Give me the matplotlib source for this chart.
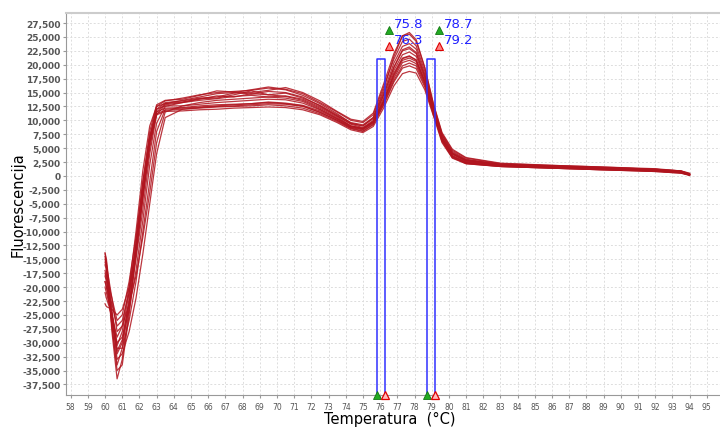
import matplotlib
matplotlib.use("Agg")
import matplotlib.pyplot as plt
from matplotlib.ticker import FuncFormatter, MultipleLocator

# temperature grid (deg C) shared by all the melt curves
temps = [60.0, 60.08, 60.4, 60.7, 61.0, 61.4, 61.8, 62.2, 62.6, 63.0, 63.5,
         64.5, 65.5, 66.5, 67.5, 68.5, 69.5, 70.5, 71.5, 72.5, 73.5,
         74.3, 75.0, 75.6, 76.2, 76.8, 77.3, 77.7, 78.1, 78.6, 79.1, 79.6,
         80.2, 81.0, 83.0, 86.0, 89.0, 92.0, 93.5, 94.0]

# fluorescence per well, in thousands
well_01 = [-14.0, -15.5, -28, -36.5, -33, -24, -13, -3, 7, 12.5, 13.5,
           14.0, 14.6, 15.0, 15.2, 15.4, 15.8, 15.5, 14.5, 13.0, 11.2,
           9.5, 9.0, 10.5, 15.5, 21.5, 25.2, 25.8, 24.5, 19.5, 13, 7.8,
           4.8, 3.3, 2.3, 1.9, 1.6, 1.2, 0.9, 0.4]
well_02 = [-16, -17, -27, -34, -31, -23, -14, -4, 5, 11.5, 13.0,
           13.6, 14.2, 14.8, 15.0, 15.5, 16.0, 15.6, 14.8, 13.2, 11.5,
           10.0, 9.6, 11, 16, 21, 24.2, 24.6, 23.4, 18.8, 12.5, 7.4,
           4.4, 3.0, 2.1, 1.8, 1.5, 1.2, 0.9, 0.3]
well_03 = [-18, -19, -26, -32, -30, -22, -12, -1, 8, 12.8, 13.6,
           13.8, 14.5, 15.3, 15.1, 14.7, 15.2, 15.0, 14.2, 12.6, 10.8,
           9.3, 8.7, 10, 14.5, 19.5, 22.7, 23.2, 22.2, 18, 12, 6.8,
           3.6, 2.4, 1.8, 1.5, 1.2, 0.9, 0.6, 0.2]
well_04 = [-20, -21, -25, -30, -29, -23, -15, -6, 4, 11, 12.8,
           13.2, 13.8, 14.4, 14.2, 14.8, 14.6, 14.3, 13.6, 12.2, 10.6,
           9.0, 8.5, 9.8, 14, 19, 21.8, 22.3, 21.5, 17.5, 11.8, 6.5,
           3.4, 2.3, 1.7, 1.4, 1.1, 0.9, 0.6, 0.1]
well_05 = [-21, -22, -25, -29, -27, -20, -10, 1, 9, 12.5, 13.0,
           13.3, 13.9, 14.0, 14.6, 15.3, 14.6, 14.9, 14.0, 12.7, 11.0,
           9.6, 9.2, 10.5, 15, 20.3, 23.3, 23.8, 22.8, 18.3, 12.3, 7.3,
           4.2, 2.9, 2.1, 1.8, 1.5, 1.2, 0.8, 0.3]
well_06 = [-14.5, -16, -22, -28, -27, -23, -18, -11, -3, 6, 11.5,
           12.6, 13.2, 13.6, 13.8, 14.0, 14.2, 14.0, 13.4, 12.0, 10.4,
           9.0, 8.6, 9.8, 13.6, 18.5, 21.2, 21.6, 20.8, 17, 11.5, 6.9,
           4.0, 2.7, 2.0, 1.7, 1.4, 1.1, 0.8, 0.3]
well_07 = [-19, -20, -23, -27, -26, -21, -14, -4, 6, 11.5, 12.2,
           12.3, 12.6, 12.8, 12.9, 13.0, 13.2, 13.0, 12.6, 11.4, 10.0,
           8.7, 8.3, 9.5, 13.2, 17.6, 20.4, 20.8, 20.2, 16.6, 11.3, 6.2,
           3.3, 2.2, 1.7, 1.4, 1.1, 0.8, 0.5, 0.1]
well_08 = [-17, -18, -22, -26, -25, -19, -11, -1, 7, 11.2, 11.8,
           12.0, 12.2, 12.4, 12.5, 12.6, 12.8, 12.6, 12.2, 11.2, 9.8,
           8.5, 8.0, 9.2, 12.7, 16.9, 19.4, 19.8, 19.3, 16.0, 11.0, 6.6,
           3.9, 2.6, 1.9, 1.6, 1.3, 1.0, 0.7, 0.2]
well_09 = [-23, -23.5, -24, -25, -24, -20, -13, -3, 6, 11, 11.6,
           11.7, 11.9, 12.0, 12.2, 12.3, 12.4, 12.3, 11.9, 11.0, 9.6,
           8.3, 7.8, 8.9, 12.2, 16.2, 18.4, 18.8, 18.5, 15.5, 10.8, 6.0,
           3.2, 2.2, 1.7, 1.4, 1.1, 0.8, 0.5, 0.2]
well_10 = [-15, -16, -25, -33, -32, -28, -22, -14, -5, 4, 10.5,
           12.0, 12.3, 12.5, 12.6, 12.8, 13.0, 12.9, 12.5, 11.5, 10.0,
           8.6, 8.1, 9.3, 12.9, 17.2, 19.8, 20.3, 19.8, 16.3, 11.2, 6.7,
           4.0, 2.8, 2.0, 1.7, 1.4, 1.1, 0.8, 0.3]
well_11 = [-19, -20, -26, -31, -31, -26, -19, -10, -1, 8, 12.0,
           12.2, 12.4, 12.6, 12.8, 13.0, 13.3, 13.1, 12.7, 11.7, 10.2,
           8.8, 8.4, 9.6, 13.4, 18.0, 20.8, 21.2, 20.6, 16.8, 11.4, 6.4,
           3.5, 2.4, 1.8, 1.5, 1.2, 0.9, 0.6, 0.2]
well_12 = [-15.5, -16.5, -27, -35, -34, -25, -14, -3, 6, 12, 13.2,
           13.5, 14.0, 14.2, 14.9, 15.0, 15.4, 15.9, 15.0, 13.5, 11.6,
           10.2, 9.8, 11.3, 16.5, 22, 25.2, 25.5, 24.2, 19.4, 12.9, 7.6,
           4.6, 3.2, 2.2, 1.9, 1.6, 1.3, 0.9, 0.5]
well_13 = [-17.5, -18.5, -25, -30.5, -28, -21, -12, -2, 7, 12, 12.6,
           12.6, 12.9, 13.2, 13.4, 13.6, 13.8, 13.7, 13.1, 11.9, 10.3,
           8.9, 8.5, 9.7, 13.4, 18.2, 21.1, 21.5, 20.9, 17.1, 11.6, 6.6,
           3.7, 2.5, 1.9, 1.6, 1.3, 1.0, 0.7, 0.2]
well_14 = [-13.8, -15, -24, -31.5, -29.5, -24, -17, -8, 2, 9.5, 12.5,
           13.2, 13.6, 13.9, 14.3, 14.5, 14.2, 14.4, 13.8, 12.4, 10.8,
           9.4, 9.0, 10.3, 14.6, 19.6, 22.5, 22.9, 22.0, 17.8, 12.0, 7.0,
           4.1, 2.8, 2.0, 1.7, 1.4, 1.0, 0.7, 0.3]

wells = [well_01, well_02, well_03, well_04, well_05, well_06, well_07,
         well_08, well_09, well_10, well_11, well_12, well_13, well_14]

# melt peak ranges (start, end) and their peak tops
peak_starts = [75.8, 78.7]
peak_ends = [76.3, 79.2]
peak_height = 21000

fig = plt.figure(figsize=(7.2, 4.35), dpi=100)
ax = fig.add_axes([0.0917, 0.0897, 0.9083, 0.878])

for w in wells:
    ax.plot(temps, [v * 1000 for v in w], color="#b0141e", linewidth=0.9, alpha=0.85)

# blue peak boxes
for t0, t1 in zip(peak_starts, peak_ends):
    ax.plot([t0, t0, t1, t1], [-40000, peak_height, peak_height, -40000],
            color="#3030ff", linewidth=1.1)

# markers + labels near the top, and on the axis
for t0, t1 in zip(peak_starts, peak_ends):
    mx = t0 + 0.7
    ax.plot(mx, 26300, marker="^", markersize=5.5, color="#22aa22",
            markeredgecolor="#117711", markeredgewidth=0.6)
    ax.plot(mx, 23400, marker="^", markersize=5.5, color="#ff8080",
            markeredgecolor="#dd0000", markeredgewidth=0.8)
    ax.text(mx + 0.3, 27400, f"{t0}", color="#2020ff", fontsize=9.5, va="center", ha="left")
    ax.text(mx + 0.3, 24500, f"{t1}", color="#2020ff", fontsize=9.5, va="center", ha="left")
    ax.plot(t0, -39400, marker="^", markersize=6, color="#22aa22",
            markeredgecolor="#117711", markeredgewidth=0.6, clip_on=False, zorder=5)
    ax.plot(t1, -39400, marker="^", markersize=6, color="#ffbbbb",
            markeredgecolor="#dd0000", markeredgewidth=0.9, clip_on=False, zorder=5)

ax.set_xlim(57.73, 95.77)
ax.set_ylim(-39400, 29300)
ax.xaxis.set_major_locator(MultipleLocator(1))
ax.yaxis.set_major_locator(MultipleLocator(2500))
ax.yaxis.set_major_formatter(FuncFormatter(lambda v, p: f"{int(v):,}"))

ax.grid(True, color="#dddddd", linestyle=(0, (2, 2)), linewidth=0.7)
ax.set_axisbelow(True)
ax.spines["right"].set_visible(False)
ax.spines["top"].set_color("#cccccc")
ax.spines["top"].set_linewidth(1.5)
ax.spines["left"].set_color("#999999")
ax.spines["bottom"].set_color("#999999")
ax.tick_params(axis="y", labelsize=6.5, labelcolor="#555555", length=2, color="#999999", pad=2)
ax.tick_params(axis="x", labelsize=5.5, labelcolor="#555555", length=2, color="#999999", pad=3)
for lab in ax.get_yticklabels():
    lab.set_fontweight("bold")

fig.text(0.025, 0.53, "Fluorescencija", rotation=90, fontsize=10.5, ha="center", va="center")
fig.text(0.542, 0.018, "Temperatura  (\u00b0C)", fontsize=10.5, ha="center", va="bottom")

fig.savefig("out.png", dpi=100)
